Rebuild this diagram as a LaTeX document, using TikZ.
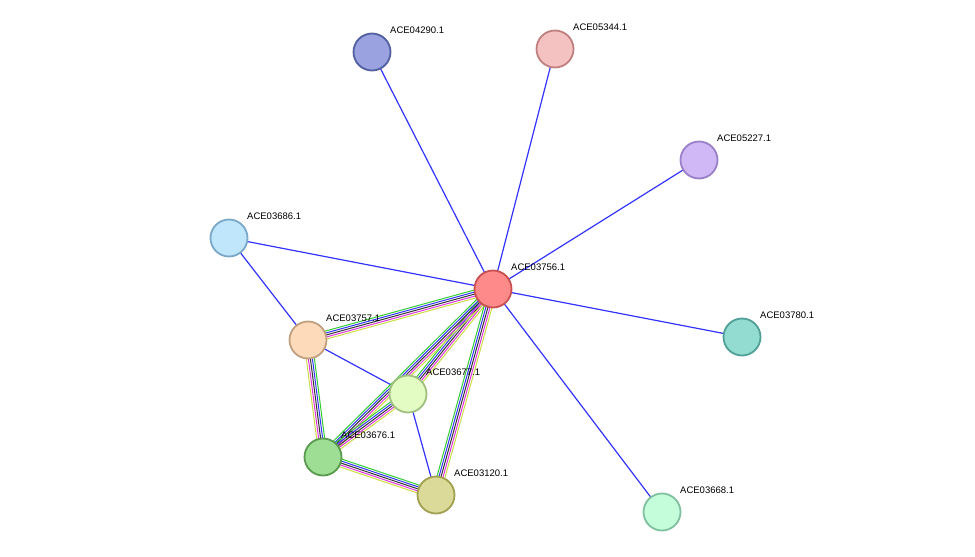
\documentclass[tikz,border=0pt]{standalone}
\usepackage{fontspec}
\setmainfont{Liberation Sans}
\usetikzlibrary{calc,backgrounds}
\definecolor{eblue}{HTML}{3333FF}
\definecolor{egreen}{HTML}{33CC33}
\definecolor{eyellow}{HTML}{CCDD44}
\definecolor{emag}{HTML}{DD33DD}
\definecolor{eblack}{HTML}{333333}
\tikzset{
  prot/.style={circle,minimum size=37pt,inner sep=0pt,line width=1.8pt},
  lbl/.style={anchor=west,font=\fontsize{9.5}{10}\selectfont,inner sep=0pt},
  single/.style={eblue,line width=1.2pt}
}
% five-colour evidence edge
\newcommand{\multiedge}[2]{%
  \foreach \col/\o in {eyellow/-4,emag/-2,eblack/0,eblue/2,egreen/4}
    \draw[\col,line width=1pt] ($(#1)!\o pt!90:(#2)$) -- ($(#2)!\o pt!-90:(#1)$);}
\begin{document}
\begin{tikzpicture}[x=1pt,y=-1pt]
  \useasboundingbox (0,0) rectangle (975,557);
  % nodes
  \node[prot,fill={rgb,255:red,255;green,138;blue,138},draw={rgb,255:red,200;green,80;blue,80}] (c56) at (493,289) {};
  \node[prot,fill={rgb,255:red,154;green,162;blue,224},draw={rgb,255:red,80;green,96;blue,160}] (c4290) at (372,52) {};
  \node[prot,fill={rgb,255:red,245;green,194;blue,194},draw={rgb,255:red,192;green,128;blue,128}] (c5344) at (555,49) {};
  \node[prot,fill={rgb,255:red,207;green,184;blue,245},draw={rgb,255:red,154;green,128;blue,200}] (c5227) at (699,160) {};
  \node[prot,fill={rgb,255:red,191;green,230;blue,250},draw={rgb,255:red,122;green,168;blue,200}] (c3686) at (229,238) {};
  \node[prot,fill={rgb,255:red,253;green,218;blue,186},draw={rgb,255:red,192;green,160;blue,128}] (c3757) at (308,340) {};
  \node[prot,fill={rgb,255:red,226;green,252;blue,196},draw={rgb,255:red,160;green,192;blue,128}] (c3677) at (408,394) {};
  \node[prot,fill={rgb,255:red,157;green,221;blue,148},draw={rgb,255:red,90;green,154;blue,80}] (c3676) at (323,457) {};
  \node[prot,fill={rgb,255:red,220;green,218;blue,152},draw={rgb,255:red,160;green,160;blue,80}] (c3120) at (436,495) {};
  \node[prot,fill={rgb,255:red,147;green,220;blue,210},draw={rgb,255:red,80;green,160;blue,152}] (c3780) at (742,337) {};
  \node[prot,fill={rgb,255:red,196;green,253;blue,218},draw={rgb,255:red,128;green,192;blue,160}] (c3668) at (662,512) {};
  % edges
  \begin{pgfonlayer}{background}
  \foreach \a/\b in {c56/c4290,c56/c5344,c56/c5227,c56/c3686,c56/c3780,c56/c3668,c3686/c3757,c3757/c3677,c3677/c3120}
    \draw[single] (\a.center) -- (\b.center);
  \foreach \a/\b in {c3757/c56,c3677/c56,c3676/c56,c3120/c56,c3757/c3676,c3676/c3677,c3676/c3120}
    {\multiedge{\a.center}{\b.center}}
  \end{pgfonlayer}
  % labels
  \foreach \n/\t in {c56/ACE03756.1,c4290/ACE04290.1,c5344/ACE05344.1,c5227/ACE05227.1,c3686/ACE03686.1,c3757/ACE03757.1,c3677/ACE03677.1,c3676/ACE03676.1,c3120/ACE03120.1,c3780/ACE03780.1,c3668/ACE03668.1}
    \node[lbl] (l\n) at ($(\n)+(18,-22)$) {\t};
\end{tikzpicture}
\end{document}
